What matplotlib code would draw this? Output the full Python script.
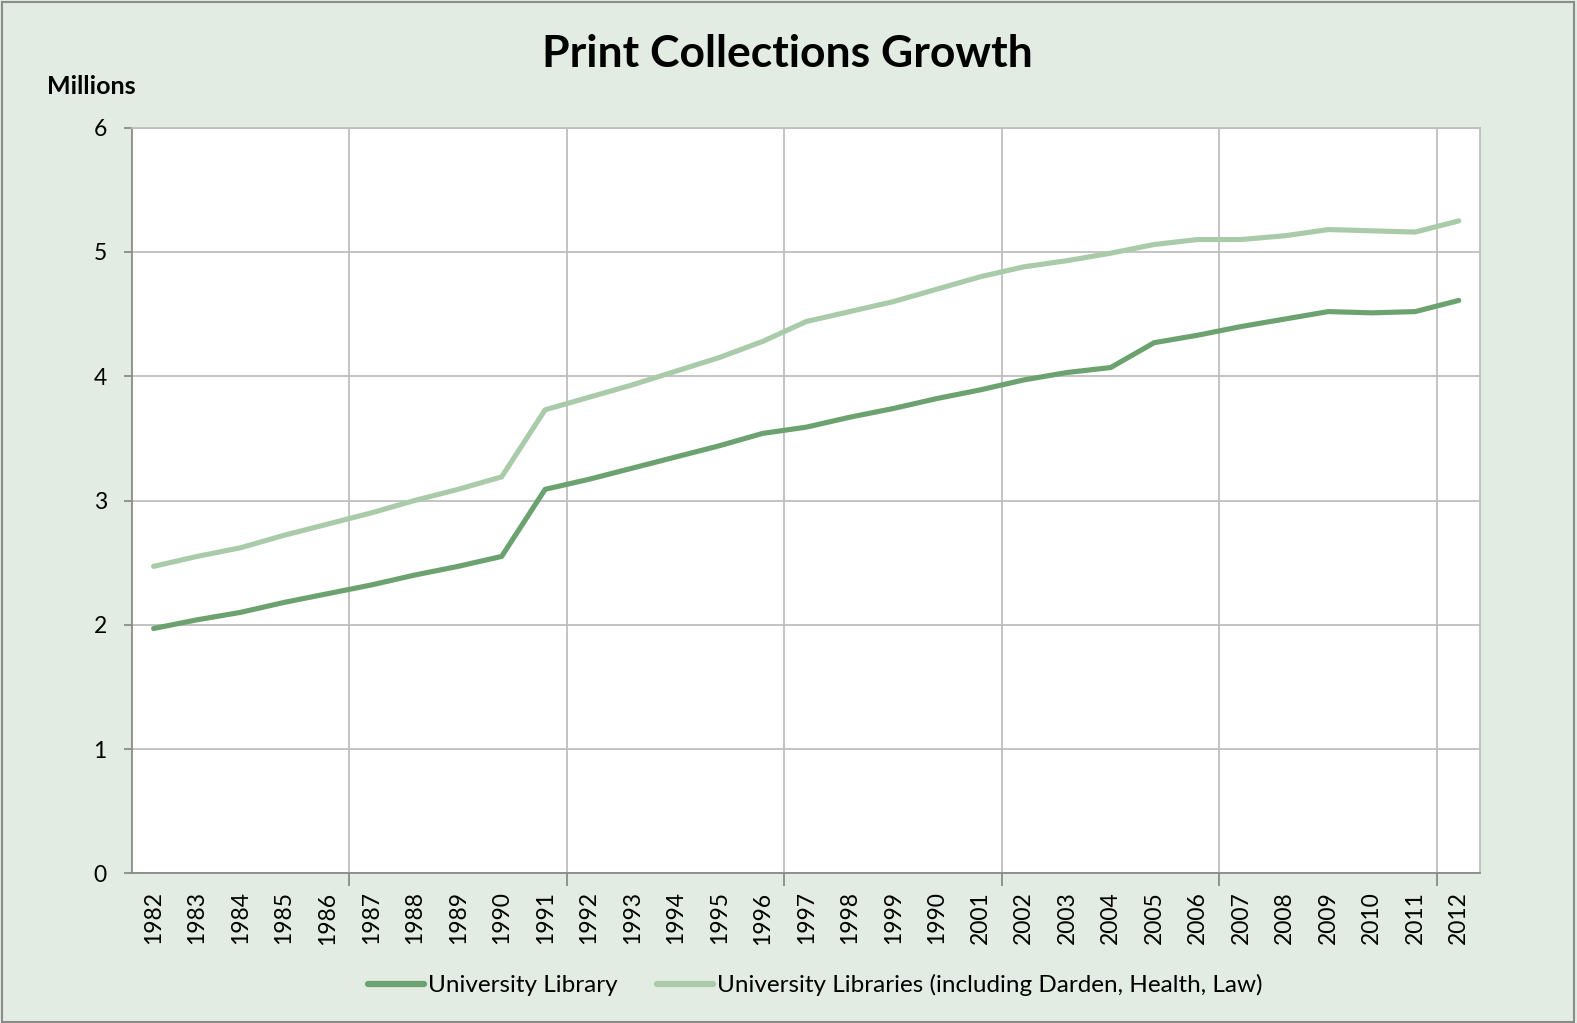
import matplotlib
matplotlib.use("Agg")
import matplotlib.pyplot as plt
from matplotlib.patches import Rectangle
import numpy as np

years = ["1982", "1983", "1984", "1985", "1986", "1987", "1988", "1989", "1990", "1991",
         "1992", "1993", "1994", "1995", "1996", "1997", "1998", "1999", "1990", "2001",
         "2002", "2003", "2004", "2005", "2006", "2007", "2008", "2009", "2010", "2011", "2012"]

university_library = [1.97, 2.04, 2.10, 2.18, 2.25, 2.32, 2.40, 2.47, 2.55, 3.09,
                      3.17, 3.26, 3.35, 3.44, 3.54, 3.59, 3.67, 3.74, 3.82, 3.89,
                      3.97, 4.03, 4.07, 4.27, 4.33, 4.40, 4.46, 4.52, 4.51, 4.52, 4.61]

university_libraries_all = [2.47, 2.55, 2.62, 2.72, 2.81, 2.90, 3.00, 3.09, 3.19, 3.73,
                            3.83, 3.93, 4.04, 4.15, 4.28, 4.44, 4.52, 4.60, 4.70, 4.80,
                            4.88, 4.93, 4.99, 5.06, 5.10, 5.10, 5.13, 5.18, 5.17, 5.16, 5.25]

series_names = ["University Library", "University Libraries (including Darden, Health, Law)"]

FONT = ["Lato", "DejaVu Sans"]
plt.rcParams['font.family'] = FONT

BG = "#E2ECE3"
DARK = "#6BA26F"
LIGHT = "#A9CBA9"
GRID = "#BEBEBE"
AXC = "#8A8A8A"

fig = plt.figure(figsize=(15.77, 10.23), dpi=100, facecolor=BG)
ax = fig.add_axes([0.0836, 0.1463, 0.9388 - 0.0836, 0.8752 - 0.1463])
ax.set_facecolor("white")

x = np.arange(len(years))
ax.plot(x, university_library, color=DARK, lw=3.7, solid_capstyle="round",
        solid_joinstyle="round", label=series_names[0], zorder=3)
ax.plot(x, university_libraries_all, color=LIGHT, lw=3.7, solid_capstyle="round",
        solid_joinstyle="round", label=series_names[1], zorder=3)

ax.set_xlim(-0.5, len(years) - 0.5)
ax.set_ylim(0, 6)
ax.set_yticks(range(0, 7))
ax.tick_params(axis="y", labelsize=16.5, length=6, color=AXC, width=1.3, pad=12)

# major x ticks at category boundaries every 5 categories (gridlines)
bounds = np.arange(4.5, len(years) - 0.5, 5)
ax.set_xticks(bounds)
ax.set_xticklabels([])
ax.tick_params(axis="x", which="major", length=9, color=AXC, width=1.3)
ax.set_xticks(x, minor=True)
ax.set_xticklabels(years, minor=True, rotation=90, fontsize=16.5)
ax.tick_params(axis="x", which="minor", length=0, pad=13)

ax.grid(True, which="major", color=GRID, lw=1.3, zorder=0)
ax.set_axisbelow(True)

for s in ["top", "right"]:
    ax.spines[s].set_color(GRID)
    ax.spines[s].set_linewidth(1.3)
for s in ["left", "bottom"]:
    ax.spines[s].set_color(AXC)
    ax.spines[s].set_linewidth(1.3)

fig.text(0.4995, 0.947, "Print Collections Growth", ha="center", va="center",
         fontsize=32, fontweight="bold")
fig.text(0.0300, 0.915, "Millions", ha="left", va="center", fontsize=18, fontweight="bold")

leg = fig.legend(loc="center", bbox_to_anchor=(0.517, 0.037), ncol=2, frameon=False,
                 fontsize=17.5, handlelength=2.3, handletextpad=0.17, columnspacing=1.6)
for h in leg.get_lines():
    h.set_linewidth(4.5)

fig.patches.append(Rectangle((0.001, 0.001), 0.997, 0.997, transform=fig.transFigure,
                             fill=False, edgecolor="#8C8C8C", lw=1.5))

fig.savefig("out.png", dpi=100, facecolor=BG)
